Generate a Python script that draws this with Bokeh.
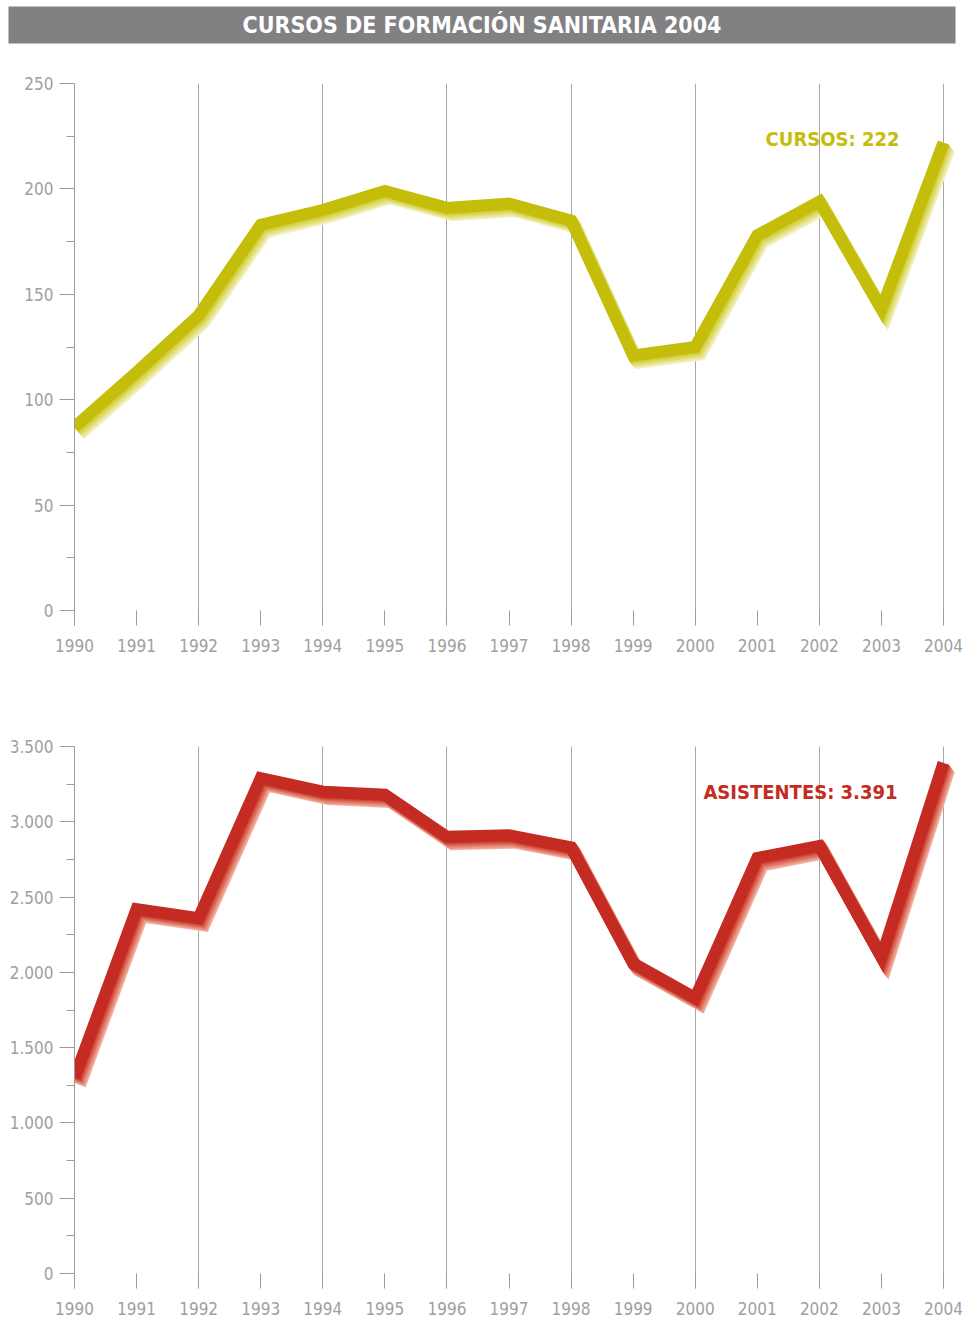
from bokeh.plotting import figure
from bokeh.models import FixedTicker, Label
from bokeh.layouts import column
from bokeh.embed import file_html
from bokeh.resources import INLINE

# ---------------- data ----------------
years = list(range(1990, 2005))
cursos = [87, 113, 140, 183, 190, 199, 191, 193, 185, 121, 125, 178, 194, 143, 222]
asistentes = [1300, 2420, 2360, 3290, 3200, 3180, 2900, 2910, 2830, 2060, 1830, 2760, 2840, 2100, 3391]

top_y_ticks = [0, 50, 100, 150, 200, 250]
top_y_minor = [25, 75, 125, 175, 225]
bot_y_ticks = [0, 500, 1000, 1500, 2000, 2500, 3000, 3500]
bot_y_minor = [250, 750, 1250, 1750, 2250, 2750, 3250]
grid_years = [1992, 1994, 1996, 1998, 2000, 2002, 2004]

title_text = "CURSOS DE FORMACIÓN SANITARIA 2004"
top_label = "CURSOS: 222"
bot_label = "ASISTENTES: 3.391"

FONT = "DejaVu Sans Condensed"
GRAY = "#9c9c9c"
LABEL_GRAY = "#a0a0a0"

W = 964
LEFT = 74
FRAME_H = 542
PLOT_H = 527          # pixels from value 0 to top value
PX_YEAR = (943 - 74) / 14.0


def hex2rgb(h):
    h = h.lstrip("#")
    return tuple(int(h[i:i + 2], 16) for i in (0, 2, 4))


def blend(c1, c2, t):
    a, b = hex2rgb(c1), hex2rgb(c2)
    return "#%02x%02x%02x" % tuple(int(round(a[i] + (b[i] - a[i]) * t)) for i in range(3))


def fmt_thousands(v):
    return f"{v:,}".replace(",", ".")


def make_chart(values, y_top, ticks, minor, main, near, far, text, label_x_px, label_y_px,
               border_top, border_bottom):
    frame_w = W - LEFT
    x_start = years[0]
    x_end = years[0] + frame_w / PX_YEAR
    y_start = -15.0 * y_top / PLOT_H
    height = border_top + FRAME_H + border_bottom
    p = figure(width=W, height=height, x_range=(x_start, x_end), y_range=(y_start, y_top),
               output_backend="svg", toolbar_location=None,
               min_border_left=LEFT, min_border_right=0,
               min_border_top=border_top, min_border_bottom=border_bottom)
    p.outline_line_color = None
    p.background_fill_color = "white"
    p.border_fill_color = "white"

    # grid: only even years
    p.ygrid.visible = False
    p.xgrid.ticker = FixedTicker(ticks=grid_years)
    p.xgrid.grid_line_color = "#a8a8a8"
    p.xgrid.grid_line_width = 1

    # x axis
    p.xaxis.ticker = FixedTicker(ticks=years)
    p.xaxis.axis_line_color = None
    p.xaxis.major_tick_in = 15
    p.xaxis.major_tick_out = 0
    p.xaxis.major_tick_line_color = GRAY
    p.xaxis.minor_tick_line_color = None
    p.xaxis.major_label_text_font = FONT
    p.xaxis.major_label_text_font_size = "17px"
    p.xaxis.major_label_text_color = LABEL_GRAY
    p.xaxis.major_label_standoff = 13

    # y axis
    p.yaxis.ticker = FixedTicker(ticks=ticks, minor_ticks=minor)
    p.yaxis.axis_line_color = GRAY
    p.yaxis.major_tick_in = 0
    p.yaxis.major_tick_out = 15
    p.yaxis.minor_tick_in = 0
    p.yaxis.minor_tick_out = 8
    p.yaxis.major_tick_line_color = GRAY
    p.yaxis.minor_tick_line_color = GRAY
    p.yaxis.major_label_text_font = FONT
    p.yaxis.major_label_text_font_size = "17px"
    p.yaxis.major_label_text_color = LABEL_GRAY
    p.yaxis.major_label_standoff = 6
    p.yaxis.major_label_overrides = {t: fmt_thousands(t) for t in ticks}

    # shadowed thick line
    sx = frame_w / (x_end - x_start)
    sy = FRAME_H / (y_top - y_start)
    n = 7
    for i in range(n, 0, -1):
        t = (i - 1) / (n - 1)
        col = blend(near, far, t)
        dx = i * 0.8 / sx
        dy = i * 1.05 / sy
        p.line([x + dx for x in years], [v - dy for v in values], line_width=12,
               line_color=col, line_join="miter", line_cap="butt")
    p.line(years, values, line_width=12, line_color=main, line_join="miter", line_cap="butt")

    lx = x_start + (label_x_px - LEFT) / sx
    ly = y_top - label_y_px / sy
    p.add_layout(Label(x=lx, y=ly, text=text, text_font=FONT, text_font_style="bold",
                       text_font_size="20px", text_color=main,
                       text_align="right", text_baseline="middle"))
    return p


# title bar: the frame itself is the grey bar
t = figure(width=W, height=44, x_range=(0, 1), y_range=(0, 1), output_backend="svg",
           toolbar_location=None, x_axis_type=None, y_axis_type=None,
           min_border_left=8, min_border_right=9, min_border_top=6, min_border_bottom=1)
t.grid.visible = False
t.outline_line_color = None
t.background_fill_color = "#818184"
t.border_fill_color = "white"
t.add_layout(Label(x=0.5, y=0.5, text=title_text, text_font=FONT,
                   text_font_style="bold", text_font_size="23px", text_color="white",
                   text_align="center", text_baseline="middle"))

p1 = make_chart(cursos, 250, top_y_ticks, top_y_minor,
                "#c4be0a", "#d2ce3c", "#f3f1c4", top_label, 899, 138 - 83, 39, 55)
p2 = make_chart(asistentes, 3500, bot_y_ticks, bot_y_minor,
                "#c42b22", "#cf4636", "#f3b3a2", bot_label, 897, 791.5 - 746, 66, 34)

layout = column(t, column(p1, p2, spacing=0), spacing=0)
open("out.html", "w").write(file_html(layout, INLINE))
